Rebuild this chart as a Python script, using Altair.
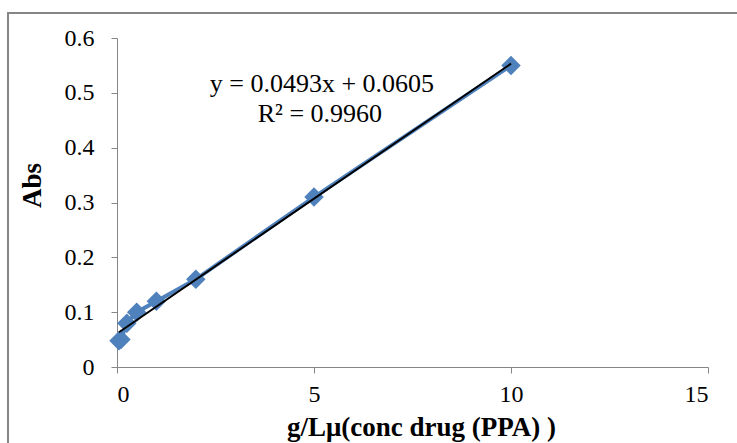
import altair as alt
import pandas as pd

conc = [0.05, 0.1, 0.25, 0.5, 1, 2, 5, 10]
absb = [0.048, 0.05, 0.08, 0.1, 0.12, 0.16, 0.31, 0.55]
eq_line1 = "y = 0.0493x + 0.0605"
eq_line2 = "R² = 0.9960"

df = pd.DataFrame({"x": conc, "y": absb})

FONT = "Liberation Serif"
AX = "#868686"

xs = alt.Scale(domain=[0, 15], nice=False, zero=True)
ys = alt.Scale(domain=[0, 0.6], nice=False)

base = alt.Chart(df)

line = base.mark_line(color="#4F81BD", strokeWidth=4).encode(
    x=alt.X("x:Q", scale=xs,
            axis=alt.Axis(values=[0, 5, 10, 15], title="g/Lμ(conc drug (PPA) )",
                          grid=False, domainColor=AX, tickColor=AX, tickSize=6,
                          labelFont=FONT, labelFontSize=24, labelColor="black",
                          labelPadding=9, titleFont=FONT, titleFontSize=27,
                          titleFontWeight="bold", titleColor="black",
                          titleBaseline="alphabetic", titleX=304, titleY=68)),
    y=alt.Y("y:Q", scale=ys,
            axis=alt.Axis(values=[0, 0.1, 0.2, 0.3, 0.4, 0.5, 0.6], format=".1~f",
                          title="Abs", grid=False, domainColor=AX, tickColor=AX,
                          tickSize=6, labelFont=FONT, labelFontSize=24,
                          labelColor="black", labelPadding=17, titleFont=FONT,
                          titleFontSize=27, titleFontWeight="bold",
                          titleColor="black", titleBaseline="middle",
                          titleX=-85, titleY=147)),
)

pts = base.mark_point(shape="diamond", filled=True, size=380, color="#4F81BD", opacity=1).encode(
    x=alt.X("x:Q", scale=xs), y=alt.Y("y:Q", scale=ys)
)

trend = base.transform_regression("x", "y").mark_line(color="black", strokeWidth=2).encode(
    x=alt.X("x:Q", scale=xs), y=alt.Y("y:Q", scale=ys)
)

txt = dict(font=FONT, fontSize=26, color="black", align="center", baseline="alphabetic")
eq1 = alt.Chart(pd.DataFrame({"t": [eq_line1]})).mark_text(**txt).encode(
    x=alt.datum(5.2), y=alt.datum(0.5015), text="t"
)
eq2 = alt.Chart(pd.DataFrame({"t": [eq_line2]})).mark_text(**txt).encode(
    x=alt.datum(5.15), y=alt.datum(0.4468), text="t"
)

border = alt.Chart(pd.DataFrame({"a": [0]})).mark_rect(
    fill=None, stroke=AX, strokeWidth=2
).encode(
    x=alt.value(-109), x2=alt.value(700), y=alt.value(-25), y2=alt.value(500)
)

chart = alt.layer(border, line, pts, trend, eq1, eq2).properties(
    width=591, height=329,
    autosize=alt.AutoSizeParams(type="none"),
    padding={"left": 117, "top": 38, "right": 29, "bottom": 76},
    background="white",
).configure_view(stroke=None)

chart.save("out.html", embed_options={"renderer": "svg", "actions": False})
